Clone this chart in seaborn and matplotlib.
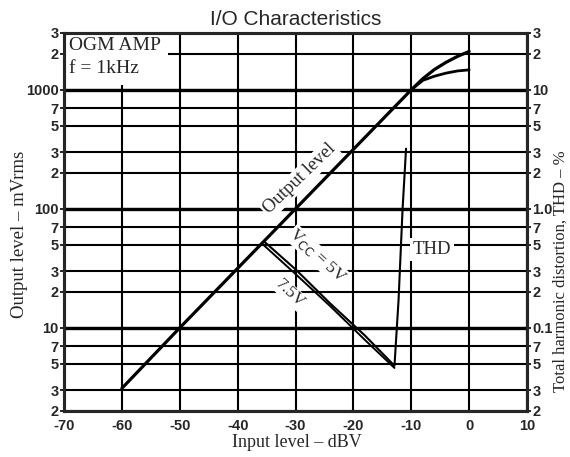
import matplotlib
matplotlib.use('Agg')
import matplotlib.pyplot as plt
import seaborn as sns

# output level (mVrms) vs input level (dBV)
out_x = [-60, -50, -40, -30, -20, -10]
out_y = [3.1, 10, 31.6, 100, 316, 1000]
# saturation branches above -10 dBV
hi_x = [-10, -8, -6, -4, -2, 0]
hi_y = [1000, 1240, 1480, 1700, 1910, 2100]
lo_x = [-10, -8, -6, -4, -2, 0]
lo_y = [1000, 1200, 1300, 1380, 1440, 1470]

# THD (%) curves
thd5_x = [-35.4, -30, -24, -18, -12.9, -12.2, -11.5, -10.9]
thd5_y = [0.53, 0.31, 0.16, 0.086, 0.048, 0.17, 1.0, 3.2]
thd75_x = [-35.4, -30, -24, -18, -12.9]
thd75_y = [0.49, 0.283, 0.152, 0.079, 0.046]

yticks = [2, 3, 5, 7, 10, 20, 30, 50, 70, 100, 200, 300, 500, 700, 1000, 2000, 3000]
ylabels_l = ['2', '3', '5', '7', '10', '2', '3', '5', '7', '100', '2', '3', '5', '7', '1000', '2', '3']
ylabels_r = ['2', '3', '5', '7', '0.1', '2', '3', '5', '7', '1.0', '2', '3', '5', '7', '10', '2', '3']
xticks = [-70, -60, -50, -40, -30, -20, -10, 0, 10]

sns.set_style('white')
plt.rcParams['font.family'] = ['Liberation Sans', 'DejaVu Sans']
serif = ['Liberation Serif', 'DejaVu Serif']

fig = plt.figure(figsize=(5.7, 4.57), dpi=100)
ax = fig.add_axes([0.1123, 0.1007, 0.8123, 0.8271])
ax.set_yscale('log')
ax.set_xlim(-70, 10)
ax.set_ylim(2, 3000)
ax.set_xticks(xticks)
ax.set_xticklabels([str(v) for v in xticks])
ax.set_yticks(yticks)
ax.set_yticklabels(ylabels_l)
ax.minorticks_off()
ax.grid(True, color='black', lw=1.5)
for v in [10, 100, 1000]:
    ax.axhline(v, color='black', lw=2.4, zorder=1)
for s in ax.spines.values():
    s.set_linewidth(2.2)
    s.set_color('black')
ax.tick_params(length=3, width=1.2, color='black', labelsize=10.5, pad=1)
ax.tick_params(axis='x', pad=2.5)
for t in ax.get_xticklabels() + ax.get_yticklabels():
    t.set_fontweight('bold')

sns.lineplot(x=out_x, y=out_y, ax=ax, color='black', lw=2.3)
sns.lineplot(x=hi_x, y=hi_y, ax=ax, color='black', lw=2.3)
sns.lineplot(x=lo_x, y=lo_y, ax=ax, color='black', lw=2.0)

ax2 = ax.twinx()
ax2.set_yscale('log')
ax2.set_ylim(0.02, 30)
ax2.set_yticks([v / 100 for v in yticks])
ax2.set_yticklabels(ylabels_r)
ax2.minorticks_off()
ax2.tick_params(length=3, width=1.2, color='black', labelsize=10.5, pad=1)
for t in ax2.get_yticklabels():
    t.set_fontweight('bold')
for s in ax2.spines.values():
    s.set_linewidth(2.2)

sns.lineplot(x=thd5_x, y=thd5_y, ax=ax2, color='black', lw=1.5)
sns.lineplot(x=thd75_x, y=thd75_y, ax=ax2, color='black', lw=1.4)

ax.set_xlabel('Input level – dBV', family=serif, fontsize=13)
ax.xaxis.set_label_coords(0.503, -0.062)
ax.set_ylabel('Output level – mVrms', family=serif, fontsize=13.5)
ax.yaxis.set_label_coords(-0.078, 0.466)
ax2.set_ylabel('Total harmonic distortion, THD – %', family=serif, fontsize=12)
ax2.yaxis.set_label_coords(1.055, 0.37)
ax.set_title('I/O Characteristics', fontsize=15, pad=6)

ax.text(-69.2, 2750, 'OGM AMP\nf = 1kHz', family=serif, fontsize=14, va='top', ha='left',
        linespacing=1.45, bbox=dict(boxstyle='square,pad=0.4', facecolor='white', edgecolor='none'),
        zorder=2, clip_on=True)
ax.text(-29.3, 178, 'Output level', family=serif, fontsize=13.5, rotation=44,
        ha='center', va='center', rotation_mode='anchor', zorder=1.5,
        bbox=dict(boxstyle='square,pad=0.1', facecolor='white', edgecolor='none'))
ax2.text(-26.2, 0.40, r'V$_{\rm CC}$ = 5V', family=serif, fontsize=12.5, rotation=-43,
         ha='center', va='center', rotation_mode='anchor', zorder=1,
         bbox=dict(boxstyle='square,pad=0.05', facecolor='white', edgecolor='none'))
ax2.text(-31.0, 0.195, '7.5V', family=serif, fontsize=12.5, rotation=-43,
         ha='center', va='center', rotation_mode='anchor', zorder=1,
         bbox=dict(boxstyle='square,pad=0.05', facecolor='white', edgecolor='none'))
ax2.text(-6.4, 0.455, 'THD', family=serif, fontsize=13.5, ha='center', va='center',
         bbox=dict(boxstyle='square,pad=0.15', facecolor='white', edgecolor='none'), zorder=1)

fig.savefig('out.png', dpi=100)
